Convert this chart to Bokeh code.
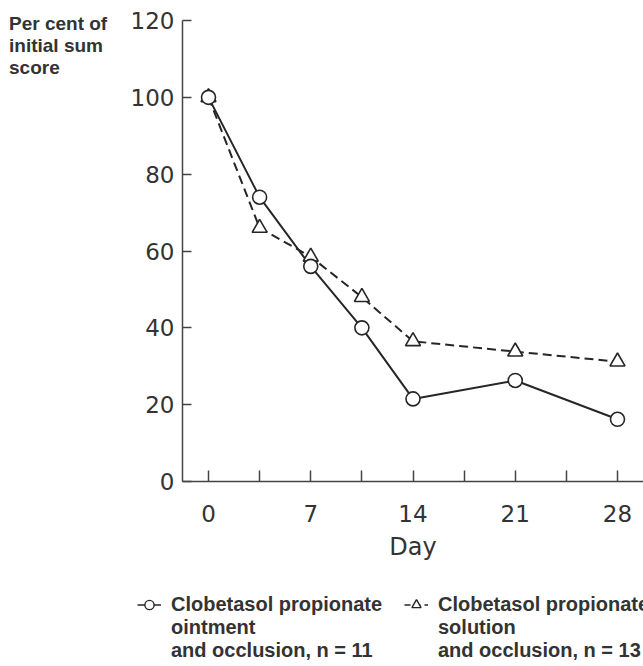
from bokeh.plotting import figure
from bokeh.layouts import column, row
from bokeh.models import FixedTicker, Legend, LegendItem, Range1d
from bokeh.embed import file_html
from bokeh.resources import INLINE

# ---- data ----
days = [0, 3.5, 7, 10.5, 14, 21, 28]
ointment = [100, 74, 56, 40, 21.5, 26.3, 16.2]
solution = [100, 66, 58.5, 48, 36.5, 33.8, 31.2]
y_ticks = [0, 20, 40, 60, 80, 100, 120]
x_major = [0, 7, 14, 21, 28]
x_minor = [3.5, 10.5, 17.5, 24.5]
name_ointment = "Clobetasol propionate"
name_solution = "Clobetasol propionate"
rest_ointment = "ointment\nand occlusion, n = 11"
rest_solution = "solution\nand occlusion, n = 13"
y_title_lines = ["Per cent of", "initial sum", "score"]
x_title = "Day"

# ---- layout ----
W, H = 643, 666
TW = 120            # width of the y-title strip on the left
MH = 585            # height of the top row (plot); legend strip below
LH = H - MH
AXIS_Y = 481        # pixel row of the x axis
TOP_Y = 20          # pixel row of the 120 tick
BL, BR, BT, BB = 182 - TW, 0, 0, MH - AXIS_Y
x0, x1 = -1.78, 29.78
y0, y_axis_top = 0, 120
y1 = y_axis_top * AXIS_Y / (AXIS_Y - TOP_Y)   # frame reaches the canvas top

INK = "#262626"
TXT = "#333333"

p = figure(width=W - TW, height=MH, x_range=Range1d(x0, x1), y_range=Range1d(y0, y1),
           output_backend="svg", toolbar_location=None,
           min_border_left=BL, min_border_right=BR, min_border_top=BT, min_border_bottom=BB)
p.xgrid.visible = False
p.ygrid.visible = False
p.outline_line_color = None

# series
p.line(days, ointment, line_color=INK, line_width=2)
p.line(days, solution, line_color=INK, line_width=2, line_dash="9 5")
p.scatter(days, solution, marker="triangle", size=15, fill_color="white",
          line_color=INK, line_width=1.6)
p.scatter(days, ointment, marker="circle", size=14, fill_color="white",
          line_color=INK, line_width=1.6)

# axes
ya = p.yaxis[0]
ya.ticker = FixedTicker(ticks=y_ticks)
ya.bounds = (y0, y_axis_top)
ya.major_tick_in = 9
ya.major_tick_out = 0
ya.minor_tick_in = 0
ya.minor_tick_out = 0
ya.axis_line_color = "#444444"
ya.axis_line_width = 1.5
ya.major_tick_line_color = "#444444"
ya.major_tick_line_width = 1.5
ya.major_label_text_font = "DejaVu Sans"
ya.major_label_text_font_size = "23px"
ya.major_label_text_color = TXT
ya.major_label_standoff = 8

xa = p.xaxis[0]
xa.ticker = FixedTicker(ticks=x_major, minor_ticks=x_minor)
xa.major_tick_in = 11
xa.major_tick_out = 0
xa.minor_tick_in = 11
xa.minor_tick_out = 0
xa.axis_line_color = "#444444"
xa.axis_line_width = 1.5
xa.major_tick_line_color = "#444444"
xa.major_tick_line_width = 1.5
xa.minor_tick_line_color = "#444444"
xa.minor_tick_line_width = 1.5
xa.major_label_text_font = "DejaVu Sans"
xa.major_label_text_font_size = "23px"
xa.major_label_text_color = TXT
xa.major_label_standoff = 23
xa.axis_label = x_title
xa.axis_label_text_font = "DejaVu Sans"
xa.axis_label_text_font_size = "24px"
xa.axis_label_text_font_style = "normal"
xa.axis_label_text_color = TXT
xa.axis_label_standoff = 8


def blank(w, h, left=0, top=0):
    # a figure without axes whose y range lies below every data value,
    # so the series drawn in it (only for the legend swatches) stay out of view
    f = figure(width=w, height=h, x_range=Range1d(0, 1), y_range=Range1d(-2, -1),
               output_backend="svg", toolbar_location=None,
               x_axis_type=None, y_axis_type=None,
               min_border_left=left, min_border_right=0, min_border_top=top, min_border_bottom=0)
    f.xgrid.visible = False
    f.ygrid.visible = False
    f.outline_line_color = None
    return f


def text_legend(items, **kw):
    base = dict(padding=0, margin=0, background_fill_alpha=0, border_line_alpha=0,
                label_text_font="Liberation Sans", label_text_font_style="bold",
                label_text_color=TXT)
    base.update(kw)
    return Legend(items=items, **base)


# ---- y title strip (left); its frame spans rows 0..AXIS_Y ----
tf = blank(TW, MH, left=8, top=0)
ghost = tf.scatter(days, ointment, marker="circle", size=1, fill_alpha=0, line_alpha=0)
tf.add_layout(text_legend([LegendItem(label=t, renderers=[ghost]) for t in y_title_lines],
                          location=(0, AXIS_Y - 79), orientation="vertical",
                          glyph_width=1, glyph_height=1, label_height=1, label_standoff=0,
                          spacing=-4, label_text_font_size="19px"), "center")

# ---- legend strip (bottom) ----
lf = blank(W, LH)
l1 = lf.line(days, ointment, line_color=INK, line_width=1.5)
m1 = lf.scatter(days, ointment, marker="circle", size=11, fill_color="white",
                line_color=INK, line_width=1.4)
l2 = lf.line(days, solution, line_color=INK, line_width=1.5, line_dash="6 4")
m2 = lf.scatter(days, solution, marker="triangle", size=11, fill_color="white",
                line_color=INK, line_width=1.4)
g2 = lf.scatter(days, solution, marker="circle", size=1, fill_alpha=0, line_alpha=0)

common = dict(orientation="horizontal", glyph_width=24, label_standoff=10, spacing=21,
              label_width=212, label_text_font_size="20px")
# first lines, with the swatches
lf.add_layout(text_legend([LegendItem(label=name_ointment, renderers=[l1, m1]),
                           LegendItem(label=name_solution, renderers=[l2, m2])],
                          location=(137, 50), glyph_height=23, **common), "center")
# remaining lines, without swatches
lf.add_layout(text_legend([LegendItem(label=rest_ointment, renderers=[g2]),
                           LegendItem(label=rest_solution, renderers=[g2])],
                          location=(137, 4), glyph_height=1, **common), "center")

layout = column(row(tf, p), lf)
open("out.html", "w").write(file_html(layout, INLINE))
